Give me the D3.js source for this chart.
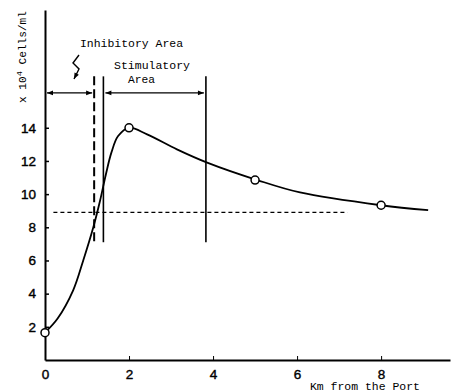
<!DOCTYPE html>
<html>
<head>
<meta charset="utf-8">
<script src="https://cdn.jsdelivr.net/npm/d3@7"></script>
<style>
  body { margin: 0; background: #fff; }
  svg { display: block; }
</style>
</head>
<body>
<div id="chart"></div>
<script>
// measured samples (km, x10^4 cells/ml)
const sampleKm = [0, 2, 5, 8];
const sampleVal = [1.65, 14.0, 10.85, 9.33];

// fitted curve
const curveKm = [0, 0.3, 0.67, 0.91, 1.15, 1.31, 1.45, 1.58, 1.74, 2.0, 2.43, 3.14, 3.86, 5.05, 6.07, 8.0, 9.12];
const curveVal = [1.65, 2.5, 4.2, 6.0, 8.0, 9.6, 11.2, 12.5, 13.5, 14.0, 13.6, 12.7, 11.9, 10.85, 10.1, 9.33, 9.03];

const xTicks = [0, 2, 4, 6, 8];
const yTicks = [2, 4, 6, 8, 10, 12, 14];

// reference level and area boundaries
const refLevel = 8.9;
const refFrom = 0.2, refTo = 7.2;
const inhibitEdge = 1.17;
const stimFrom = 1.39, stimTo = 3.83;
const markTop = 17.1, markBottom = 7.1;
const arrowLevel = 16.1;

const width = 451, height = 392;
const svg = d3.select("#chart").append("svg")
  .attr("width", width)
  .attr("height", height);

const x = d3.scaleLinear().domain([0, 9.64]).range([45, 450]);
const y = d3.scaleLinear().domain([0, 21.1]).range([360, 10]);

const tickFont = "'Liberation Sans', Arial, sans-serif";
const monoFont = "'Liberation Mono', 'DejaVu Sans Mono', monospace";

// axes
const xAxis = svg.append("g")
  .attr("transform", `translate(0,${y(0)})`)
  .call(d3.axisBottom(x).tickValues(xTicks).tickSize(-4).tickSizeOuter(0).tickPadding(9));
xAxis.select(".domain").attr("stroke-width", 2);
xAxis.selectAll("text").attr("font-family", tickFont).attr("font-size", 13.5)
  .attr("fill", "#000").attr("stroke", "#000").attr("stroke-width", 0.4);

const yAxis = svg.append("g")
  .attr("transform", `translate(${x(0)},0)`)
  .call(d3.axisLeft(y).tickValues(yTicks).tickSize(-4).tickSizeOuter(0).tickPadding(9));
yAxis.select(".domain").attr("stroke-width", 2);
yAxis.selectAll(".tick line").attr("stroke-width", 1.5);
yAxis.selectAll("text").attr("font-family", tickFont).attr("font-size", 13.5)
  .attr("fill", "#000").attr("stroke", "#000").attr("stroke-width", 0.4);

// axis titles
svg.append("text")
  .attr("transform", "translate(26,103) rotate(-90)")
  .attr("font-family", monoFont)
  .attr("font-size", 10.5)
  .attr("textLength", 92)
  .attr("lengthAdjust", "spacingAndGlyphs")
  .text("x 10")
  .append("tspan").attr("dy", -4).attr("font-size", 8).text("4")
  .select(function() { return this.parentNode; })
  .append("tspan").attr("dy", 4).text(" Cells/ml");

svg.append("text")
  .attr("x", 310).attr("y", 390)
  .attr("font-family", monoFont)
  .attr("font-size", 10.5)
  .attr("textLength", 110)
  .attr("lengthAdjust", "spacingAndGlyphs")
  .text("Km from the Port");

// arrow markers
const defs = svg.append("defs");
defs.append("marker")
  .attr("id", "arr")
  .attr("viewBox", "0 0 10 10")
  .attr("refX", 10).attr("refY", 5)
  .attr("markerWidth", 7).attr("markerHeight", 6)
  .attr("markerUnits", "userSpaceOnUse")
  .attr("orient", "auto-start-reverse")
  .append("path").attr("d", "M0,1L10,5L0,9Z").attr("fill", "#000");

// area boundaries
svg.append("line")
  .attr("x1", x(inhibitEdge)).attr("x2", x(inhibitEdge))
  .attr("y1", y(markTop)).attr("y2", y(markBottom))
  .attr("stroke", "#000").attr("stroke-width", 2)
  .attr("stroke-dasharray", "9,4");

[stimFrom, stimTo].forEach(k => {
  svg.append("line")
    .attr("x1", x(k)).attr("x2", x(k))
    .attr("y1", y(markTop)).attr("y2", y(markBottom))
    .attr("stroke", "#000").attr("stroke-width", 1.6);
});

svg.append("line")
  .attr("x1", x(0) + 2).attr("x2", x(inhibitEdge) - 2)
  .attr("y1", y(arrowLevel)).attr("y2", y(arrowLevel))
  .attr("stroke", "#000").attr("stroke-width", 1.3)
  .attr("marker-start", "url(#arr)").attr("marker-end", "url(#arr)");

svg.append("line")
  .attr("x1", x(stimFrom) + 2).attr("x2", x(stimTo) - 2)
  .attr("y1", y(arrowLevel)).attr("y2", y(arrowLevel))
  .attr("stroke", "#000").attr("stroke-width", 1.3)
  .attr("marker-start", "url(#arr)").attr("marker-end", "url(#arr)");

// annotations
svg.append("text")
  .attr("x", 80).attr("y", 47)
  .attr("font-family", monoFont).attr("font-size", 10)
  .attr("textLength", 103).attr("lengthAdjust", "spacingAndGlyphs")
  .text("Inhibitory Area");

svg.append("text")
  .attr("x", 114).attr("y", 69)
  .attr("font-family", monoFont).attr("font-size", 10.5)
  .attr("textLength", 76).attr("lengthAdjust", "spacingAndGlyphs")
  .text("Stimulatory");

svg.append("text")
  .attr("x", 128).attr("y", 83)
  .attr("font-family", monoFont).attr("font-size", 10.5)
  .attr("textLength", 27).attr("lengthAdjust", "spacingAndGlyphs")
  .text("Area");

// squiggle pointer
svg.append("path")
  .attr("d", "M79,55 L73,63 L79,69 L74,79")
  .attr("fill", "none").attr("stroke", "#000").attr("stroke-width", 1.4)
  .attr("marker-end", "url(#arr)");

// reference level
svg.append("line")
  .attr("x1", x(refFrom)).attr("x2", x(refTo))
  .attr("y1", y(refLevel)).attr("y2", y(refLevel))
  .attr("stroke", "#000").attr("stroke-width", 1.2)
  .attr("stroke-dasharray", "4,3");

// curve
const line = d3.line()
  .x((d, i) => x(curveKm[i]))
  .y(d => y(d))
  .curve(d3.curveCatmullRom.alpha(0.5));

svg.append("path")
  .attr("d", line(curveVal))
  .attr("fill", "none")
  .attr("stroke", "#000")
  .attr("stroke-width", 1.8);

// sample points
svg.selectAll("circle.pt")
  .data(sampleVal)
  .join("circle")
    .attr("class", "pt")
    .attr("cx", (d, i) => x(sampleKm[i]))
    .attr("cy", d => y(d))
    .attr("r", 4)
    .attr("fill", "#fff")
    .attr("stroke", "#000")
    .attr("stroke-width", 1.5);
</script>
</body>
</html>
